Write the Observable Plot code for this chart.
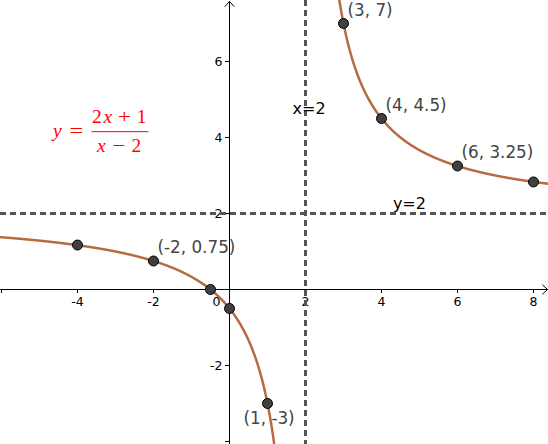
<!DOCTYPE html>
<html><head><meta charset="utf-8">
<script src="https://cdn.jsdelivr.net/npm/d3@7"></script>
<script src="https://cdn.jsdelivr.net/npm/@observablehq/plot@0.6"></script>
<style>body{margin:0;background:#fff} svg{display:block}</style>
</head><body><div id="chart"></div>
<script>
// Marked points on y = (2x+1)/(x-2)
const pointX = [-4, -2, -0.5, 0, 1, 3, 4, 6, 8];
const pointY = [1.17, 0.75, 0, -0.5, -3, 7, 4.5, 3.25, 2.83];
// Labelled points
const labelX = [-2, 3, 4, 6];
const labelY = [0.75, 7, 4.5, 3.25];
const labelText = ["(-2, 0.75)", "(3, 7)", "(4, 4.5)", "(6, 3.25)"];
const lowLabelX = [1];
const lowLabelY = [-3];
const lowLabelText = ["(1, -3)"];
// Axis ticks
const xTicks = [-6, -4, -2, 2, 4, 6, 8];
const xTickLabelValues = [-4, -2, 2, 4, 6, 8];
const xTickLabels = ["-4", "-2", "2", "4", "6", "8"];
const yTicks = [-4, -2, 2, 4, 6];
const yTickLabelValues = [-2, 2, 4, 6];
const yTickLabels = ["-2", "2", "4", "6"];
// Asymptotes
const vAsym = [2];
const hAsym = [2];
const asymLabels = ["x=2", "y=2"];

const f = x => (2 * x + 1) / (x - 2);
const leftBranch = d3.range(-6.1, 1.999, 0.005).map(x => ({x, y: f(x)}));
const rightBranch = d3.range(2.002, 8.5, 0.005).map(x => ({x, y: f(x)}));

const points = pointX.map((x, i) => ({x, y: pointY[i]}));
const labels = labelX.map((x, i) => ({x, y: labelY[i], t: labelText[i]}));
const lowLabels = lowLabelX.map((x, i) => ({x, y: lowLabelY[i], t: lowLabelText[i]}));

const W = 548, H = 444;
const xDomain = [-229 / 38, 319 / 38];
const yDomain = [-155 / 38, 289 / 38];
const curveColor = "#b96a42";
const font = "DejaVu Sans, sans-serif";

const chart = Plot.plot({
  width: W, height: H,
  marginTop: 0, marginRight: 0, marginBottom: 0, marginLeft: 0,
  style: {fontFamily: font, background: "#fff"},
  x: {domain: xDomain, range: [0, W], axis: null},
  y: {domain: yDomain, range: [H, 0], axis: null},
  marks: [
    // axes with arrow heads
    Plot.arrow([0], {x1: xDomain[0], x2: 8.37, y1: 0, y2: 0, stroke: "black", strokeWidth: 1, headLength: 10, headAngle: 85}),
    Plot.arrow([0], {x1: 0, x2: 0, y1: yDomain[0], y2: 7.58, stroke: "black", strokeWidth: 1, headLength: 10, headAngle: 85}),
    Plot.ruleX(xTicks, {x: d => d, y1: 0, y2: 0, insetTop: 0, insetBottom: -4, stroke: "black"}),
    Plot.ruleY(yTicks, {y: d => d, x1: 0, x2: 0, insetLeft: -4, insetRight: 0, stroke: "black"}),
    Plot.text(xTickLabelValues, {x: d => d, y: 0, dy: 12, text: (d, i) => xTickLabels[i], fontSize: 12.5, fill: "black"}),
    Plot.text(["0"], {x: 0, y: 0, dx: -13, dy: 12, text: d => d, fontSize: 12.5, fill: "black"}),
    Plot.text(yTickLabelValues, {x: 0, y: d => d, dx: -7, text: (d, i) => yTickLabels[i], textAnchor: "end", fontSize: 12.5, fill: "black"}),
    // asymptotes
    Plot.ruleX(vAsym, {x: d => d, stroke: "#555", strokeWidth: 3, strokeDasharray: "6,4"}),
    Plot.ruleY(hAsym, {y: d => d, stroke: "#555", strokeWidth: 3, strokeDasharray: "6,4"}),
    Plot.text([asymLabels[0]], {x: vAsym[0], y: 4.75, dx: -13, text: d => d, textAnchor: "start", fontSize: 16, fill: "black"}),
    Plot.text([asymLabels[1]], {x: 4.3, y: hAsym[0], dy: -10, text: d => d, textAnchor: "start", fontSize: 16, fill: "black"}),
    // curve
    Plot.line(leftBranch, {x: "x", y: "y", stroke: curveColor, strokeWidth: 2.5, clip: true}),
    Plot.line(rightBranch, {x: "x", y: "y", stroke: curveColor, strokeWidth: 2.5, clip: true}),
    // points
    Plot.dot(points, {x: "x", y: "y", r: 5, fill: "#404040", stroke: "black", strokeWidth: 1}),
    Plot.text(labels, {x: "x", y: "y", text: "t", dx: 4, dy: -13, textAnchor: "start", fontSize: 16.8, fill: "#444"}),
    Plot.text(lowLabels, {x: "x", y: "y", text: "t", dx: -24, dy: 15, textAnchor: "start", fontSize: 16.8, fill: "#444"})
  ]
});

// Formula annotation y = (2x+1)/(x-2), glyphs placed individually like typeset math
const sx = chart.scale("x"), sy = chart.scale("y");
const cx = sx.apply(-2.87), cy = sy.apply(4.14);
const svg = d3.select(chart);
const g = svg.append("g").attr("fill", "#f00").attr("font-family", "Liberation Serif, serif").attr("font-size", 19.5).attr("text-anchor", "middle");
const glyphs = [
  {t: "y", dx: -62.5, dy: 5, it: true},
  {t: "=", dx: -43.6, dy: 5.5, sx: 1.25},
  {t: "2", dx: -23.1, dy: -8.2},
  {t: "x", dx: -12, dy: -8.2, it: true},
  {t: "+", dx: 4.5, dy: -8.2, sx: 1.2},
  {t: "1", dx: 21.7, dy: -8.2},
  {t: "x", dx: -18.6, dy: 20.5, it: true},
  {t: "\u2212", dx: -1.1, dy: 20.5, sx: 1.2},
  {t: "2", dx: 16.4, dy: 20.5}
];
for (const d of glyphs) {
  const x = cx + d.dx, y = cy + d.dy;
  const el = g.append("text").attr("x", x).attr("y", y)
    .attr("font-style", d.it ? "italic" : "normal").text(d.t);
  if (d.sx) el.attr("transform", `translate(${x},0) scale(${d.sx},1) translate(${-x},0)`);
}
g.append("line").attr("x1", cx - 28.5).attr("x2", cx + 28.5).attr("y1", cy).attr("y2", cy).attr("stroke", "#f00").attr("stroke-width", 1);

document.getElementById("chart").append(chart);
</script>
</body></html>
